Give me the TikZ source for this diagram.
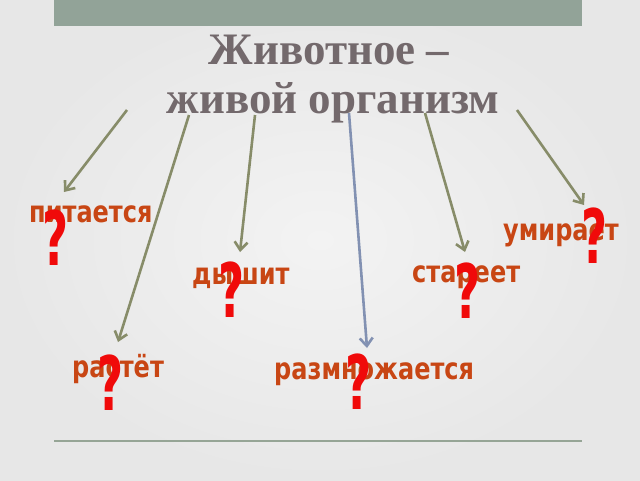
\documentclass[tikz,border=0pt]{standalone}
\usepackage{fontspec}
\setmainfont{Liberation Serif}
\newfontfamily\lblfont{DejaVu Sans}
\newfontfamily\qfont{DejaVu Sans}
\usetikzlibrary{arrows.meta}
\definecolor{bgin}{RGB}{243,243,243}
\definecolor{bgout}{RGB}{231,231,231}
\definecolor{barc}{RGB}{146,163,152}
\definecolor{titlec}{RGB}{115,105,108}
\definecolor{lblc}{RGB}{200,70,20}
\definecolor{qc}{RGB}{240,10,10}
\definecolor{olive}{RGB}{135,140,105}
\definecolor{bluegray}{RGB}{130,145,178}
\definecolor{rulec}{RGB}{150,165,150}
\tikzset{
  titletext/.style={font=\bfseries\fontsize{45}{49}\selectfont, text=titlec, inner sep=0pt, anchor=base},
  lbl/.style={font=\lblfont\bfseries\fontsize{30}{30}\selectfont, text=lblc, inner sep=0pt, anchor=base west},
  qmark/.style={font=\qfont\bfseries\fontsize{75}{75}\selectfont, text=qc, inner sep=0pt, anchor=center},
  conn/.style={draw=olive, line width=2.6pt, -{Straight Barb[length=8pt,width=13pt]}},
  connblue/.style={draw=bluegray, line width=2.6pt, -{Straight Barb[length=8pt,width=13pt]}}
}
\begin{document}
\begin{tikzpicture}[x=1pt,y=-1pt]
\useasboundingbox (0,0) rectangle (640,480);
\shade[inner color=bgin, outer color=bgout] (0,0) rectangle (640,480);
\fill[barc] (54,0) rectangle (582,26);
\draw[rulec, line width=2pt] (54,441) -- (582,441);

\node[titletext] (title1) at (329,64) {Животное –};
\node[titletext] (title2) at (333,113) {живой организм};

% arrow start / end points
\coordinate (s1) at (127,110);
\coordinate (s2) at (189,115);
\coordinate (s3) at (255,115);
\coordinate (s4) at (349,113);
\coordinate (s5) at (425,113);
\coordinate (s6) at (517,110);
\coordinate (e1) at (64,192);
\coordinate (e2) at (118,342);
\coordinate (e3) at (240,252);
\coordinate (e4) at (367,348);
\coordinate (e5) at (465,252);
\coordinate (e6) at (584,205);

\draw[conn] (s1) -- (e1);
\draw[conn] (s2) -- (e2);
\draw[conn] (s3) -- (e3);
\draw[connblue] (s4) -- (e4);
\draw[conn] (s5) -- (e5);
\draw[conn] (s6) -- (e6);

\node[lbl] (l1) at (29,222) {\scalebox{0.8}[1]{питается}};
\node[lbl] (l6) at (503,240) {\scalebox{0.8}[1]{умирает}};
\node[lbl] (l3) at (192,284) {\scalebox{0.8}[1]{дышит}};
\node[lbl] (l5) at (412,282) {\scalebox{0.8}[1]{стареет}};
\node[lbl] (l2) at (72,377) {\scalebox{0.8}[1]{растёт}};
\node[lbl] (l4) at (274,379) {\scalebox{0.8}[1]{размножается}};

\node[qmark] (q1) at (56,238) {\scalebox{0.6}[1]{?}};
\node[qmark] (q3) at (232,290) {\scalebox{0.6}[1]{?}};
\node[qmark] (q5) at (468,291) {\scalebox{0.6}[1]{?}};
\node[qmark] (q6) at (595,236) {\scalebox{0.6}[1]{?}};
\node[qmark] (q2) at (111,383) {\scalebox{0.6}[1]{?}};
\node[qmark] (q4) at (359,382) {\scalebox{0.6}[1]{?}};
\end{tikzpicture}
\end{document}
